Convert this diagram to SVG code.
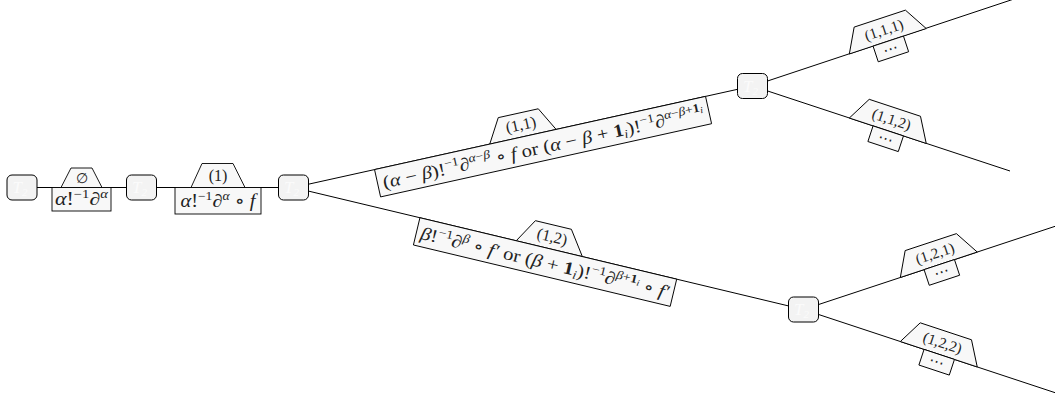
<svg xmlns="http://www.w3.org/2000/svg" width="1055" height="400" viewBox="0 0 1055 400">
<style>
.ln{stroke:#000;stroke-width:1;fill:none}
.nd{fill:#f3f3f3;stroke:#000;stroke-width:1}
.nt{font-family:"Liberation Serif","DejaVu Serif",serif;font-style:italic;font-size:17px;fill:#fbfbfb}
.sh{fill:#f8f8f8;stroke:#000;stroke-width:0.9}
.t{font-family:"Liberation Serif","DejaVu Serif",serif;fill:#222}
.i{font-style:italic}
.b{font-weight:bold}
.d{font-family:"DejaVu Serif",serif;fill:#222;font-size:15px}
</style>
<rect width="1055" height="400" fill="#fff"/>
<g id="connectors">
<line class="ln" x1="22" y1="187.5" x2="141.5" y2="187.5"/>
<line class="ln" x1="141.5" y1="187.5" x2="293.5" y2="187.5"/>
<line class="ln" x1="293.5" y1="187.5" x2="752.5" y2="86"/>
<line class="ln" x1="293.5" y1="187.5" x2="803.5" y2="309.5"/>
<line class="ln" x1="752.5" y1="86" x2="1014" y2="-1"/>
<line class="ln" x1="752.5" y1="86" x2="1010" y2="171"/>
<line class="ln" x1="803.5" y1="309.5" x2="1063" y2="223.7"/>
<line class="ln" x1="803.5" y1="309.5" x2="1063" y2="395.3"/>
</g>
<g id="label-e1">
<polygon class="sh" points="61,187.5 71,168 92,168 102,187.5"/>
<text class="t" x="81.5" y="183" text-anchor="middle" font-size="14">∅</text>
<rect class="sh" x="52" y="187.5" width="59" height="23.5"/>
<text class="t" x="81.5" y="205" text-anchor="middle" font-size="18" textLength="53" lengthAdjust="spacingAndGlyphs"><tspan class="i">α</tspan>!<tspan font-size="12" dy="-7">−1</tspan><tspan dy="7">∂</tspan><tspan class="i" font-size="12" dy="-7">α</tspan></text>
</g>
<g id="label-e2">
<polygon class="sh" points="191,187.5 202,163.5 233,163.5 245,187.5"/>
<text class="t" x="218" y="181" text-anchor="middle" font-size="16">(1)</text>
<rect class="sh" x="175" y="187.5" width="86" height="26.5"/>
<text class="t" x="218" y="207" text-anchor="middle" font-size="18" textLength="75" lengthAdjust="spacingAndGlyphs"><tspan class="i">α</tspan>!<tspan font-size="12" dy="-7">−1</tspan><tspan dy="7">∂</tspan><tspan class="i" font-size="12" dy="-7">α</tspan><tspan dy="7"> ∘ </tspan><tspan class="i">f</tspan></text>
</g>
<g id="label-e11" transform="translate(293.5,187.5) rotate(-12.47)">
<polygon class="sh" points="201,0 215,-24 256,-24 269,0"/>
<text class="t" x="235.5" y="-7" text-anchor="middle" font-size="16">(1,1)</text>
<rect class="sh" x="83" y="0" width="339" height="28"/>
<text class="t" x="252.5" y="20.5" text-anchor="middle" font-size="18" textLength="328" lengthAdjust="spacingAndGlyphs">(<tspan class="i">α</tspan> − <tspan class="i">β</tspan>)!<tspan font-size="12" dy="-7">−1</tspan><tspan dy="7">∂</tspan><tspan font-size="12" dy="-7"><tspan class="i">α</tspan>−<tspan class="i">β</tspan></tspan><tspan dy="7"> ∘ </tspan><tspan class="i">f</tspan> or (<tspan class="i">α</tspan> − <tspan class="i">β</tspan> + <tspan class="b">1</tspan><tspan class="i" font-size="12" dy="3">i</tspan><tspan dy="-3">)!</tspan><tspan font-size="12" dy="-7">−1</tspan><tspan dy="7">∂</tspan><tspan font-size="12" dy="-7"><tspan class="i">α</tspan>−<tspan class="i">β</tspan>+<tspan class="b">1</tspan></tspan><tspan class="i" font-size="9" dy="2">i</tspan></text>
</g>
<g id="label-e12" transform="translate(293.5,187.5) rotate(13.45)">
<polygon class="sh" points="229,0 243,-24 280,-24 297,0"/>
<text class="t" x="263" y="-7" text-anchor="middle" font-size="16">(1,2)</text>
<rect class="sh" x="130" y="0" width="264" height="28"/>
<text class="t" x="262" y="20.5" text-anchor="middle" font-size="18" textLength="255" lengthAdjust="spacingAndGlyphs"><tspan class="i">β</tspan>!<tspan font-size="12" dy="-7">−1</tspan><tspan dy="7">∂</tspan><tspan class="i" font-size="12" dy="-7">β</tspan><tspan dy="7"> ∘ </tspan><tspan class="i">f′</tspan> or (<tspan class="i">β</tspan> + <tspan class="b">1</tspan><tspan class="i" font-size="12" dy="3">i</tspan><tspan dy="-3">)!</tspan><tspan font-size="12" dy="-7">−1</tspan><tspan dy="7">∂</tspan><tspan font-size="12" dy="-7"><tspan class="i">β</tspan>+<tspan class="b">1</tspan></tspan><tspan class="i" font-size="9" dy="2">i</tspan><tspan dy="5"> ∘ </tspan><tspan class="i">f′</tspan></text>
</g>
<g id="label-e111" transform="translate(752.5,86) rotate(-18.3)">
<polygon class="sh" points="102,0 115,-24 169,-24 183,0"/>
<text class="t" x="142.5" y="-7" text-anchor="middle" font-size="15">(1,1,1)</text>
<rect class="sh" x="127" y="0" width="32" height="16.5"/>
<text class="d" x="143" y="13" text-anchor="middle">⋯</text>
</g>
<g id="label-e112" transform="translate(752.5,86) rotate(18.3)">
<polygon class="sh" points="102,0 115,-24 169,-24 183,0"/>
<text class="t" x="142.5" y="-7" text-anchor="middle" font-size="15">(1,1,2)</text>
<rect class="sh" x="127" y="0" width="32" height="16.5"/>
<text class="d" x="143" y="13" text-anchor="middle">⋯</text>
</g>
<g id="label-e121" transform="translate(803.5,309.5) rotate(-18.3)">
<polygon class="sh" points="102,0 115,-24 169,-24 183,0"/>
<text class="t" x="142.5" y="-7" text-anchor="middle" font-size="15">(1,2,1)</text>
<rect class="sh" x="127" y="0" width="32" height="16.5"/>
<text class="d" x="143" y="13" text-anchor="middle">⋯</text>
</g>
<g id="label-e122" transform="translate(803.5,309.5) rotate(18.3)">
<polygon class="sh" points="102,0 115,-24 169,-24 183,0"/>
<text class="t" x="142.5" y="-7" text-anchor="middle" font-size="15">(1,2,2)</text>
<rect class="sh" x="127" y="0" width="32" height="16.5"/>
<text class="d" x="143" y="13" text-anchor="middle">⋯</text>
</g>
<g id="node1"><rect class="nd" x="7" y="175" width="30" height="25" rx="5"/><text class="nt" x="20" y="193" text-anchor="middle">T<tspan font-size="11" dy="3">2</tspan></text></g>
<g id="node2"><rect class="nd" x="126.5" y="175" width="30" height="25" rx="5"/><text class="nt" x="139.5" y="193" text-anchor="middle">T<tspan font-size="11" dy="3">2</tspan></text></g>
<g id="node3"><rect class="nd" x="278.5" y="175" width="30" height="25" rx="5"/><text class="nt" x="291.5" y="193" text-anchor="middle">T<tspan font-size="11" dy="3">2</tspan></text></g>
<g id="node4"><rect class="nd" x="737.5" y="73.5" width="30" height="25" rx="5"/><text class="nt" x="750.5" y="91.5" text-anchor="middle">T<tspan font-size="11" dy="3">2</tspan></text></g>
<g id="node5"><rect class="nd" x="788.5" y="297" width="30" height="25" rx="5"/><text class="nt" x="801.5" y="315" text-anchor="middle">T<tspan font-size="11" dy="3">2</tspan></text></g>
</svg>
